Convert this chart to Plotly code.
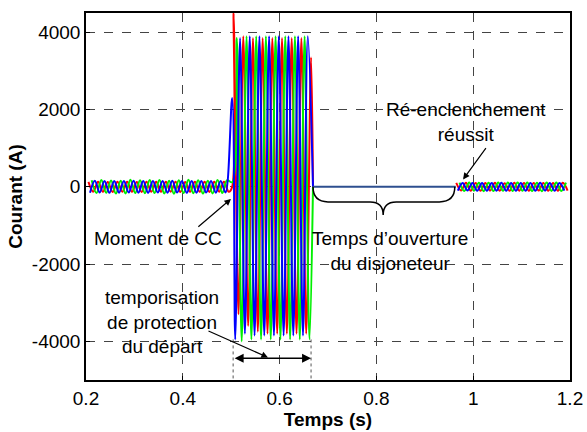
import plotly.graph_objects as go

# half-period of the 50 Hz currents (s); peaks are read every half-period
half_period = 0.01

# pre-fault currents (A): peaks per half-period
pre_start = {"red": 0.205, "green": 0.2117, "blue": 0.2083}
pre_red = [130, -125, 135, -130, 128, -132, 130, -127, 133, -130, 126, -131, 134, -128, 130,
           -129, 132, -126, 131, -133, 127, -130, 135, -128, 129, -131, 130, -127, 133, -130]
pre_green = [170, -160, 180, -155, 165, -175, 160, -170, 185, -160, 170, -165, 180, -160, 175,
             -170, 160, -180, 170, -160, 185, -165, 170, -175, 160, -170, 180, -160, 170]
pre_blue = [-150, 155, -145, 150, -155, 148, -150, 152, -146, 155, -150, 148, -154, 150, -148,
            152, -150, 155, -147, 150, -153, 148, -150, 154, -149, 151, -150, 153, -148]

# short-circuit instant and the current of each phase at that instant (A)
fault_onset = 0.502
onset_i = {"red": 0, "green": 120, "blue": 2300}

# fault currents (A)
fault_start = {"red": 0.505, "green": 0.5117, "blue": 0.5083}
fault_red = [4500, -3300, 3900, -3600, 3850, -3750, 3850, -3800, 3850, -3800, 3850, -3800,
             3850, -3800, 3850, -3800, 3350]
fault_green = [3850, -4000, 3900, -3950, 3900, -3950, 3900, -3950, 3900, -3950, 3900, -3950,
               3900, -3950, 3900, -3950]
fault_blue = [-3950, 3850, -3800, 3900, -3850, 3900, -3850, 3900, -3850, 3900, -3850, 3900,
              -3850, 3900, -3850, 3900]
fault_end = 0.669

# breaker open: zero current
open_t = [0.669, 0.964]
open_i = [0, 0]

# after successful reclosing
post_start = {"red": 0.965, "green": 0.9717, "blue": 0.9683}
post_red = [100, -95, 105, -100, 98, -102, 100, -97, 103, -100, 96, -101, 104, -98, 100,
            -99, 102, -96, 101, -103, 97, -100, 105, -98]
post_green = [110, -105, 115, -100, 108, -112, 105, -110, 115, -104, 110, -106, 112, -100,
              110, -108, 104, -112, 110, -105, 114, -106, 110]
post_blue = [-100, 98, -96, 102, -101, 97, -100, 99, -98, 103, -100, 97, -102, 100, -98, 101,
             -100, 103, -97, 100, -101, 98, -100]

x_ticks = [0.2, 0.4, 0.6, 0.8, 1, 1.2]
x_labels = ["0.2", "0.4", "0.6", "0.8", "1", "1.2"]
y_ticks = [-4000, -2000, 0, 2000, 4000]
y_labels = ["-4000", "-2000", "0", "2000", "4000"]

colors = {"red": "#ff0000", "green": "#00f000", "blue": "#0000ff"}
phases = {
    "red": (pre_red, fault_red, post_red),
    "green": (pre_green, fault_green, post_green),
    "blue": (pre_blue, fault_blue, post_blue),
}

fig = go.Figure()

for name, (pre, fault, post) in phases.items():
    t = [pre_start[name] + half_period * k for k in range(len(pre))]
    y = list(pre)
    t.append(fault_onset)
    y.append(onset_i[name])
    t += [fault_start[name] + half_period * k for k in range(len(fault))]
    y += list(fault)
    t.append(fault_end)
    y.append(0)
    fig.add_trace(go.Scatter(x=t, y=y, mode="lines", line=dict(color=colors[name], width=2, shape="spline"),
                             showlegend=False, hoverinfo="skip"))

fig.add_trace(go.Scatter(x=open_t, y=open_i, mode="lines", line=dict(color="#2e4f8f", width=2),
                         showlegend=False, hoverinfo="skip"))

for name, (pre, fault, post) in phases.items():
    t = [post_start[name] + half_period * k for k in range(len(post))]
    fig.add_trace(go.Scatter(x=t, y=post, mode="lines", line=dict(color=colors[name], width=2, shape="spline"),
                             showlegend=False, hoverinfo="skip"))

font = dict(family="Arial, Liberation Sans, sans-serif", size=19, color="black")

# curly brace under the breaker-open period
fig.add_shape(type="path", xref="x", yref="y",
              path="M 0.669,0 Q 0.669,-390 0.70,-390 L 0.787,-390 Q 0.814,-390 0.814,-730 "
                   "Q 0.814,-390 0.841,-390 L 0.93,-390 Q 0.962,-390 0.962,0",
              line=dict(color="black", width=1.5))

# dotted limits of the protection delay
for xv in [0.504, 0.665]:
    fig.add_shape(type="line", xref="x", yref="y", x0=xv, x1=xv, y0=-3950, y1=-5000,
                  line=dict(color="#555", width=1, dash="dot"))

# double arrow
fig.add_annotation(x=0.665, y=-4440, ax=0.504, ay=-4440, xref="x", yref="y", axref="x", ayref="y",
                   text="", showarrow=True, arrowhead=2, arrowsize=1.2, arrowwidth=1.5, startarrowhead=2,
                   arrowside="end+start", startarrowsize=1.2, arrowcolor="black")

fig.add_annotation(x=0.4996, y=-312, ax=0.429, ay=-1065, xref="x", yref="y", axref="x", ayref="y",
                   text="", showarrow=True, arrowhead=2, arrowsize=1.1, arrowwidth=1.2, arrowcolor="black")
fig.add_annotation(x=0.349, y=-1330, text="Moment de CC", showarrow=False, font=font, xref="x", yref="y")

fig.add_annotation(x=0.828, y=-1660, text="Temps d\u2019ouverture<br>du disjoneteur", showarrow=False,
                   font=font, xref="x", yref="y")

fig.add_annotation(x=0.979, y=190, ax=1.0285, ay=1040, xref="x", yref="y", axref="x", ayref="y",
                   text="", showarrow=True, arrowhead=2, arrowsize=1.1, arrowwidth=1.2, arrowcolor="black")
fig.add_annotation(x=0.985, y=1690, text="R\u00e9-enclenchement<br>r\u00e9ussit", showarrow=False,
                   font=font, xref="x", yref="y")

fig.add_annotation(x=0.576, y=-4416, ax=0.45, ay=-3714, xref="x", yref="y", axref="x", ayref="y",
                   text="", showarrow=True, arrowhead=2, arrowsize=1.1, arrowwidth=1.2, arrowcolor="black")
fig.add_annotation(x=0.358, y=-3500, text="temporisation<br>de protection<br>du d\u00e9part",
                   showarrow=False, font=font, xref="x", yref="y")

axis_common = dict(showgrid=True, gridcolor="#444", griddash="dash", gridwidth=1, zeroline=False,
                   showline=True, linecolor="black", linewidth=1.5, mirror=True, automargin=False,
                   ticks="inside", ticklen=4, tickcolor="black", tickfont=font)

title_font = dict(family="Arial, Liberation Sans, sans-serif", size=19, color="black")

fig.update_xaxes(range=[0.2, 1.2], tickvals=x_ticks, ticktext=x_labels,
                 title=dict(text="<b>Temps (s)</b>", font=title_font, standoff=2), **axis_common)
fig.update_yaxes(range=[-5000, 4500], tickvals=y_ticks, ticktext=y_labels,
                 title=dict(text="<b>Courant (A)</b>", font=title_font, standoff=4), **axis_common)

fig.update_layout(width=587, height=432, margin=dict(l=86, r=17, t=13, b=52),
                  plot_bgcolor="white", paper_bgcolor="white", font=font)

fig.write_html("out.html", config={"displayModeBar": False})

# drop the default page margin so the figure fills the window
with open("out.html", encoding="utf-8") as f:
    page = f.read()
page = page.replace("<head>", "<head><style>body{margin:0;}</style>", 1)
with open("out.html", "w", encoding="utf-8") as f:
    f.write(page)
